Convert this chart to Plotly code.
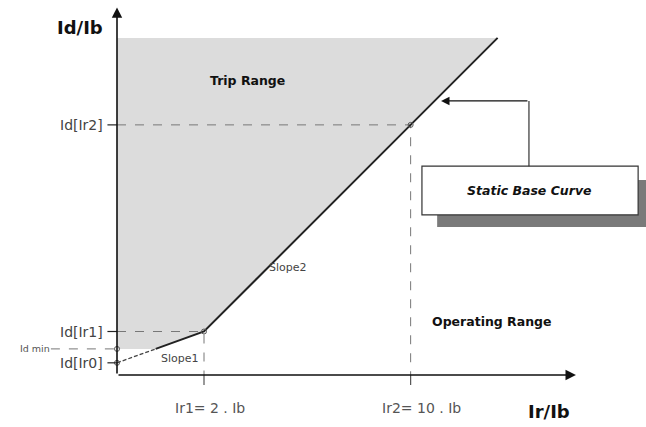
import plotly.graph_objects as go

# ---- schematic data (arbitrary units, schematic characteristic) ----
ir_points = [0.0, 2.0, 6.75, 8.75]          # Ir/Ib of curve vertices: Ir0, Ir1, Ir2, end
id_points = [0.28, 1.0, 5.75, 7.75]         # Id/Ib at those vertices
id_min = 0.6
id_top = 7.75
x_tick_labels = ["Ir1= 2 . Ib", "Ir2= 10 . Ib"]
y_tick_labels = ["Id[Ir0]", "Id[Ir1]", "Id[Ir2]"]

PX = 43.5  # pixels per unit
FONT = "DejaVu Sans"

# intersection of slope1 with Id min
s1 = (id_points[1] - id_points[0]) / (ir_points[1] - ir_points[0])
x_cross = (id_min - id_points[0]) / s1

fig = go.Figure()

# trip range shading
fig.add_trace(go.Scatter(
    x=[0, x_cross, ir_points[1], ir_points[3], 0, 0],
    y=[id_min, id_min, id_points[1], id_top, id_top, id_min],
    fill="toself", fillcolor="#dcdcdc", line=dict(width=0), mode="lines",
    hoverinfo="skip", showlegend=False))

# dashed guide lines
dash = dict(color="#777777", width=1, dash="dash")
for xv, yv in [(ir_points[1], id_points[1]), (ir_points[2], id_points[2])]:
    fig.add_trace(go.Scatter(x=[0, xv, xv], y=[yv, yv, 0], mode="lines",
                             line=dash, showlegend=False, hoverinfo="skip"))
# Id min dashed line
fig.add_trace(go.Scatter(x=[-1.52, 0], y=[id_min, id_min], mode="lines",
                         line=dash, showlegend=False, hoverinfo="skip"))
# dashed part of slope1
fig.add_trace(go.Scatter(x=[ir_points[0], x_cross], y=[id_points[0], id_min], mode="lines",
                         line=dict(color="#444444", width=1.3, dash="4px,2px"),
                         showlegend=False, hoverinfo="skip"))
# solid curve
fig.add_trace(go.Scatter(x=[x_cross] + ir_points[1:], y=[id_min] + id_points[1:], mode="lines",
                         line=dict(color="#222222", width=2), showlegend=False, hoverinfo="skip"))

# small ticks
tick = dict(color="#222222", width=1.2)
for yv in [id_points[0], id_points[1], id_points[2]]:
    fig.add_shape(type="line", x0=-0.22, x1=0, y0=yv, y1=yv, line=tick)
for xv in [ir_points[1], ir_points[2]]:
    fig.add_shape(type="line", x0=xv, x1=xv, y0=0, y1=-0.23, line=dict(color="#555555", width=1.2))

# markers
fig.add_trace(go.Scatter(x=[0, 0, ir_points[1], ir_points[2]],
                         y=[id_points[0], id_min, id_points[1], id_points[2]],
                         mode="markers",
                         marker=dict(symbol="circle-open", size=5, color="#555555", line=dict(width=1)),
                         showlegend=False, hoverinfo="skip"))

# axes with arrows
fig.add_annotation(x=0, y=8.45, ax=0, ay=0, xref="x", yref="y", axref="x", ayref="y",
                   showarrow=True, arrowhead=2, arrowsize=1.3, arrowwidth=1.6, arrowcolor="#111111", text="")
fig.add_annotation(x=10.55, y=0, ax=0, ay=0, xref="x", yref="y", axref="x", ayref="y",
                   showarrow=True, arrowhead=2, arrowsize=1.3, arrowwidth=1.6, arrowcolor="#111111", text="")

# shadow and box
fig.add_shape(type="rect", x0=7.36, x1=12.5, y0=3.40, y1=4.48, fillcolor="#7a7a7a", line=dict(width=0))
fig.add_shape(type="rect", x0=7.01, x1=11.98, y0=3.68, y1=4.80, fillcolor="white",
              line=dict(color="#333333", width=1.2))
fig.add_annotation(x=9.49, y=4.24, text="<b><i>Static Base Curve</i></b>", showarrow=False,
                   font=dict(family=FONT, size=12.5, color="#111111"))
# callout arrow
fig.add_shape(type="line", x0=9.47, x1=9.47, y0=4.80, y1=6.30, line=dict(color="#333333", width=1.2))
fig.add_annotation(x=7.45, y=6.30, ax=9.47, ay=6.30, xref="x", yref="y", axref="x", ayref="y",
                   showarrow=True, arrowhead=2, arrowsize=1.4, arrowwidth=1.2, arrowcolor="#111111", text="")

# text labels
def lab(x, y, t, size, xanchor="center", color="#222222"):
    fig.add_annotation(x=x, y=y, text=t, showarrow=False, xanchor=xanchor,
                       font=dict(family=FONT, size=size, color=color))

lab(-0.85, 7.98, "<b>Id/Ib</b>", 18, color="#111111")
lab(9.93, -0.85, "<b>Ir/Ib</b>", 18, color="#111111")
lab(-0.27, id_points[2], y_tick_labels[2], 14, "right", "#444444")
lab(-0.27, id_points[1], y_tick_labels[1], 14, "right", "#444444")
lab(-0.27, id_points[0], y_tick_labels[0], 14, "right", "#444444")
lab(-1.50, id_min, "Id min", 9.5, "right", "#555555")
lab(2.13, -0.76, x_tick_labels[0], 14, color="#555555")
lab(7.0, -0.76, x_tick_labels[1], 14, color="#555555")
lab(2.99, 6.78, "<b>Trip Range</b>", 12.5, color="#111111")
lab(8.62, 1.22, "<b>Operating Range</b>", 12.5, color="#111111")
lab(3.93, 2.46, "Slope2", 11, color="#444444")
lab(1.45, 0.39, "Slope1", 11, color="#444444")

fig.update_layout(
    width=646, height=427, autosize=False,
    margin=dict(l=0, r=0, t=0, b=0),
    paper_bgcolor="white", plot_bgcolor="white",
    xaxis=dict(range=[-117 / PX, 529 / PX], visible=False, fixedrange=True),
    yaxis=dict(range=[-52 / PX, 375 / PX], visible=False, fixedrange=True),
    showlegend=False,
)

fig.write_html("out.html", config={"displayModeBar": False},
               post_script="document.body.style.margin='0';document.body.style.overflow='hidden';")
